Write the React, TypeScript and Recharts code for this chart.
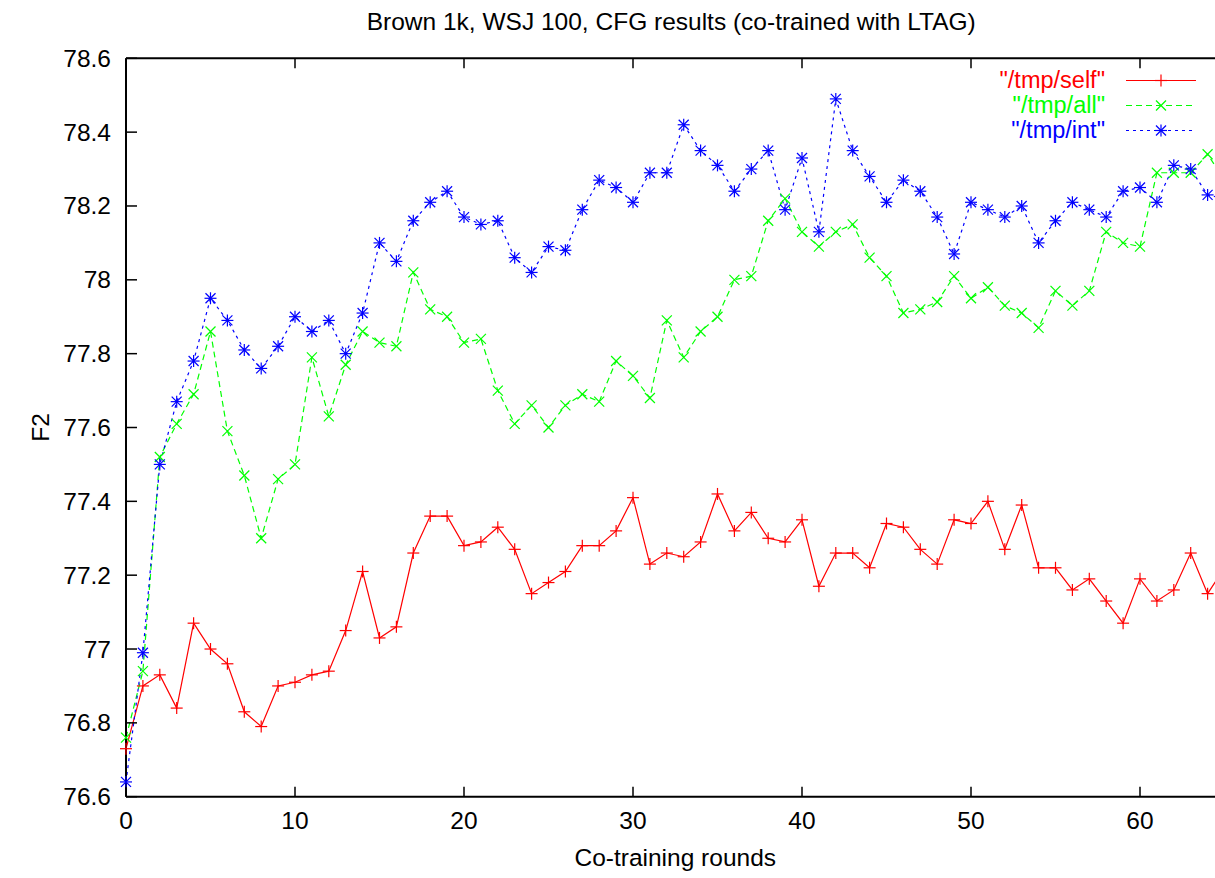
import { LineChart, Line, XAxis, YAxis, Legend, Label } from 'recharts';

// co-training round index (x)
const rounds = [
  0, 1, 2, 3, 4, 5, 6, 7, 8, 9, 10, 11, 12, 13, 14, 15, 16, 17, 18, 19, 20, 21,
  22, 23, 24, 25, 26, 27, 28, 29, 30, 31, 32, 33, 34, 35, 36, 37, 38, 39, 40,
  41, 42, 43, 44, 45, 46, 47, 48, 49, 50, 51, 52, 53, 54, 55, 56, 57, 58, 59,
  60, 61, 62, 63, 64, 65,
];

// "/tmp/self"
const selfF2 = [
  76.73, 76.9, 76.93, 76.84, 77.07, 77.0, 76.96, 76.83, 76.79, 76.9, 76.91,
  76.93, 76.94, 77.05, 77.21, 77.03, 77.06, 77.26, 77.36, 77.36, 77.28, 77.29,
  77.33, 77.27, 77.15, 77.18, 77.21, 77.28, 77.28, 77.32, 77.41, 77.23, 77.26,
  77.25, 77.29, 77.42, 77.32, 77.37, 77.3, 77.29, 77.35, 77.17, 77.26, 77.26,
  77.22, 77.34, 77.33, 77.27, 77.23, 77.35, 77.34, 77.4, 77.27, 77.39, 77.22,
  77.22, 77.16, 77.19, 77.13, 77.07, 77.19, 77.13, 77.16, 77.26, 77.15, 77.22,
];

// "/tmp/all"
const allF2 = [
  76.76, 76.94, 77.52, 77.61, 77.69, 77.86, 77.59, 77.47, 77.3, 77.46, 77.5,
  77.79, 77.63, 77.77, 77.86, 77.83, 77.82, 78.02, 77.92, 77.9, 77.83, 77.84,
  77.7, 77.61, 77.66, 77.6, 77.66, 77.69, 77.67, 77.78, 77.74, 77.68, 77.89,
  77.79, 77.86, 77.9, 78.0, 78.01, 78.16, 78.22, 78.13, 78.09, 78.13, 78.15,
  78.06, 78.01, 77.91, 77.92, 77.94, 78.01, 77.95, 77.98, 77.93, 77.91, 77.87,
  77.97, 77.93, 77.97, 78.13, 78.1, 78.09, 78.29, 78.29, 78.29, 78.34, 78.27,
];

// "/tmp/int"
const intF2 = [
  76.64, 76.99, 77.5, 77.67, 77.78, 77.95, 77.89, 77.81, 77.76, 77.82, 77.9,
  77.86, 77.89, 77.8, 77.91, 78.1, 78.05, 78.16, 78.21, 78.24, 78.17, 78.15,
  78.16, 78.06, 78.02, 78.09, 78.08, 78.19, 78.27, 78.25, 78.21, 78.29, 78.29,
  78.42, 78.35, 78.31, 78.24, 78.3, 78.35, 78.19, 78.33, 78.13, 78.49, 78.35,
  78.28, 78.21, 78.27, 78.24, 78.17, 78.07, 78.21, 78.19, 78.17, 78.2, 78.1,
  78.16, 78.21, 78.19, 78.17, 78.24, 78.25, 78.21, 78.31, 78.3, 78.23, 78.22,
];

const xTicks = [0, 10, 20, 30, 40, 50, 60];
const yTicks = [76.6, 76.8, 77, 77.2, 77.4, 77.6, 77.8, 78, 78.2, 78.4, 78.6];

const data = rounds.map((r, i) => ({
  round: r,
  self: selfF2[i],
  all: allF2[i],
  int: intF2[i],
}));

const FONT = '"Liberation Sans", Arial, Helvetica, sans-serif';
const FS = 24.5;
const LEGEND_FS = 23.5;

type MarkKind = 'plus' | 'cross' | 'star';

const series: { key: string; name: string; color: string; dash?: string; mark: MarkKind }[] = [
  { key: 'self', name: '"/tmp/self"', color: '#ff0000', mark: 'plus' },
  { key: 'all', name: '"/tmp/all"', color: '#00ff00', dash: '6 4', mark: 'cross' },
  { key: 'int', name: '"/tmp/int"', color: '#0000ff', dash: '3 4', mark: 'star' },
];

function Mark({ cx, cy, color, kind }: { cx: number; cy: number; color: string; kind: MarkKind }) {
  const s = 6;
  const d = 5;
  const plus = (
    <>
      <line x1={cx - s} y1={cy} x2={cx + s} y2={cy} />
      <line x1={cx} y1={cy - s} x2={cx} y2={cy + s} />
    </>
  );
  const cross = (
    <>
      <line x1={cx - d} y1={cy - d} x2={cx + d} y2={cy + d} />
      <line x1={cx - d} y1={cy + d} x2={cx + d} y2={cy - d} />
    </>
  );
  return (
    <g stroke={color} strokeWidth={1.2} fill="none">
      {kind !== 'cross' && plus}
      {kind !== 'plus' && cross}
    </g>
  );
}

const markDot = (color: string, kind: MarkKind) => (p: any) => {
  if (p.cx == null || p.cy == null) return <g key={`e-${p.index}`} />;
  return <Mark key={`${kind}-${p.index}`} cx={p.cx} cy={p.cy} color={color} kind={kind} />;
};

// gnuplot style: ticks point into the plot
const BottomTick = ({ x, y, payload }: any) => (
  <g>
    <line x1={x} y1={y} x2={x} y2={y - 10} stroke="#000" strokeWidth={1.5} />
    <text x={x} y={y + 32} textAnchor="middle" fontSize={FS} fontFamily={FONT} fill="#000">
      {payload.value}
    </text>
  </g>
);

const TopTick = ({ x, y }: any) => (
  <line x1={x} y1={y} x2={x} y2={y + 10} stroke="#000" strokeWidth={1.5} />
);

const LeftTick = ({ x, y, payload }: any) => (
  <g>
    <line x1={x} y1={y} x2={x + 11} y2={y} stroke="#000" strokeWidth={1.5} />
    <text x={x - 15} y={y + 8.5} textAnchor="end" fontSize={FS} fontFamily={FONT} fill="#000">
      {payload.value}
    </text>
  </g>
);

const RightTick = ({ x, y }: any) => (
  <line x1={x} y1={y} x2={x - 11} y2={y} stroke="#000" strokeWidth={1.5} />
);

const renderLegend = () => (
  <div style={{ fontFamily: FONT, fontSize: LEGEND_FS }}>
    {series.map((s) => (
      <div key={s.key} style={{ display: 'flex', alignItems: 'center', height: 25 }}>
        <span style={{ width: 210, textAlign: 'right', color: s.color, lineHeight: '25px' }}>
          {s.name}
        </span>
        <svg width={72} height={25} style={{ marginLeft: 21 }}>
          <line x1={0} y1={12.5} x2={70} y2={12.5} stroke={s.color} strokeWidth={1.2} strokeDasharray={s.dash} />
          <Mark cx={35} cy={12.5} color={s.color} kind={s.mark} />
        </svg>
      </div>
    ))}
  </div>
);

export default function App() {
  return (
    <div
      style={{
        position: 'fixed',
        left: 0,
        top: 0,
        width: 1215,
        height: 878,
        overflow: 'hidden',
        background: '#fff',
        fontFamily: FONT,
      }}
    >
      <LineChart
        width={1240}
        height={878}
        data={data}
        margin={{ top: 18.3, right: 5.5, bottom: 41.3, left: 66 }}
      >
        <XAxis
          dataKey="round"
          type="number"
          domain={[0, 65]}
          ticks={xTicks}
          interval={0}
          height={40}
          tickSize={0}
          tickMargin={0}
          tickLine={false}
          tick={<BottomTick />}
          axisLine={{ stroke: '#000', strokeWidth: 2 }}
        >
          <Label
            content={({ viewBox }: any) => (
              <text
                x={viewBox.x + viewBox.width / 2}
                y={viewBox.y + 69}
                textAnchor="middle"
                fontSize={FS}
                fontFamily={FONT}
                fill="#000"
              >
                Co-training rounds
              </text>
            )}
          />
        </XAxis>
        <XAxis
          xAxisId="top"
          orientation="top"
          dataKey="round"
          type="number"
          domain={[0, 65]}
          ticks={xTicks}
          interval={0}
          height={40}
          tickSize={0}
          tickMargin={0}
          tickLine={false}
          tick={<TopTick />}
          axisLine={{ stroke: '#000', strokeWidth: 2 }}
        >
          <Label
            content={({ viewBox }: any) => (
              <text
                x={viewBox.x + viewBox.width / 2 - 4}
                y={viewBox.y + viewBox.height - 28}
                textAnchor="middle"
                fontSize={FS}
                fontFamily={FONT}
                fill="#000"
              >
                Brown 1k, WSJ 100, CFG results (co-trained with LTAG)
              </text>
            )}
          />
        </XAxis>
        <YAxis
          type="number"
          domain={[76.6, 78.6]}
          ticks={yTicks}
          interval={0}
          width={60}
          tickSize={0}
          tickMargin={0}
          tickLine={false}
          tick={<LeftTick />}
          axisLine={{ stroke: '#000', strokeWidth: 2 }}
        >
          <Label
            content={({ viewBox }: any) => {
              const cx = viewBox.x + viewBox.width - 86;
              const cy = viewBox.y + viewBox.height / 2;
              return (
                <text
                  x={cx}
                  y={cy}
                  transform={`rotate(-90 ${cx} ${cy})`}
                  textAnchor="middle"
                  dominantBaseline="central"
                  fontSize={FS}
                  fontFamily={FONT}
                  fill="#000"
                >
                  F2
                </text>
              );
            }}
          />
        </YAxis>
        <YAxis
          yAxisId="right"
          orientation="right"
          type="number"
          domain={[76.6, 78.6]}
          ticks={yTicks}
          interval={0}
          width={10}
          tickSize={0}
          tickMargin={0}
          tickLine={false}
          tick={<RightTick />}
          axisLine={{ stroke: '#000', strokeWidth: 2 }}
        />
        <Legend
          layout="vertical"
          align="center"
          verticalAlign="middle"
          wrapperStyle={{ left: 895, top: 68, width: 320 }}
          content={renderLegend}
        />
        {series.map((s) => (
          <Line
            key={s.key}
            dataKey={s.key}
            name={s.name}
            type="linear"
            stroke={s.color}
            strokeWidth={1.2}
            strokeDasharray={s.dash}
            dot={markDot(s.color, s.mark)}
            activeDot={false}
            isAnimationActive={false}
          />
        ))}
      </LineChart>
    </div>
  );
}
